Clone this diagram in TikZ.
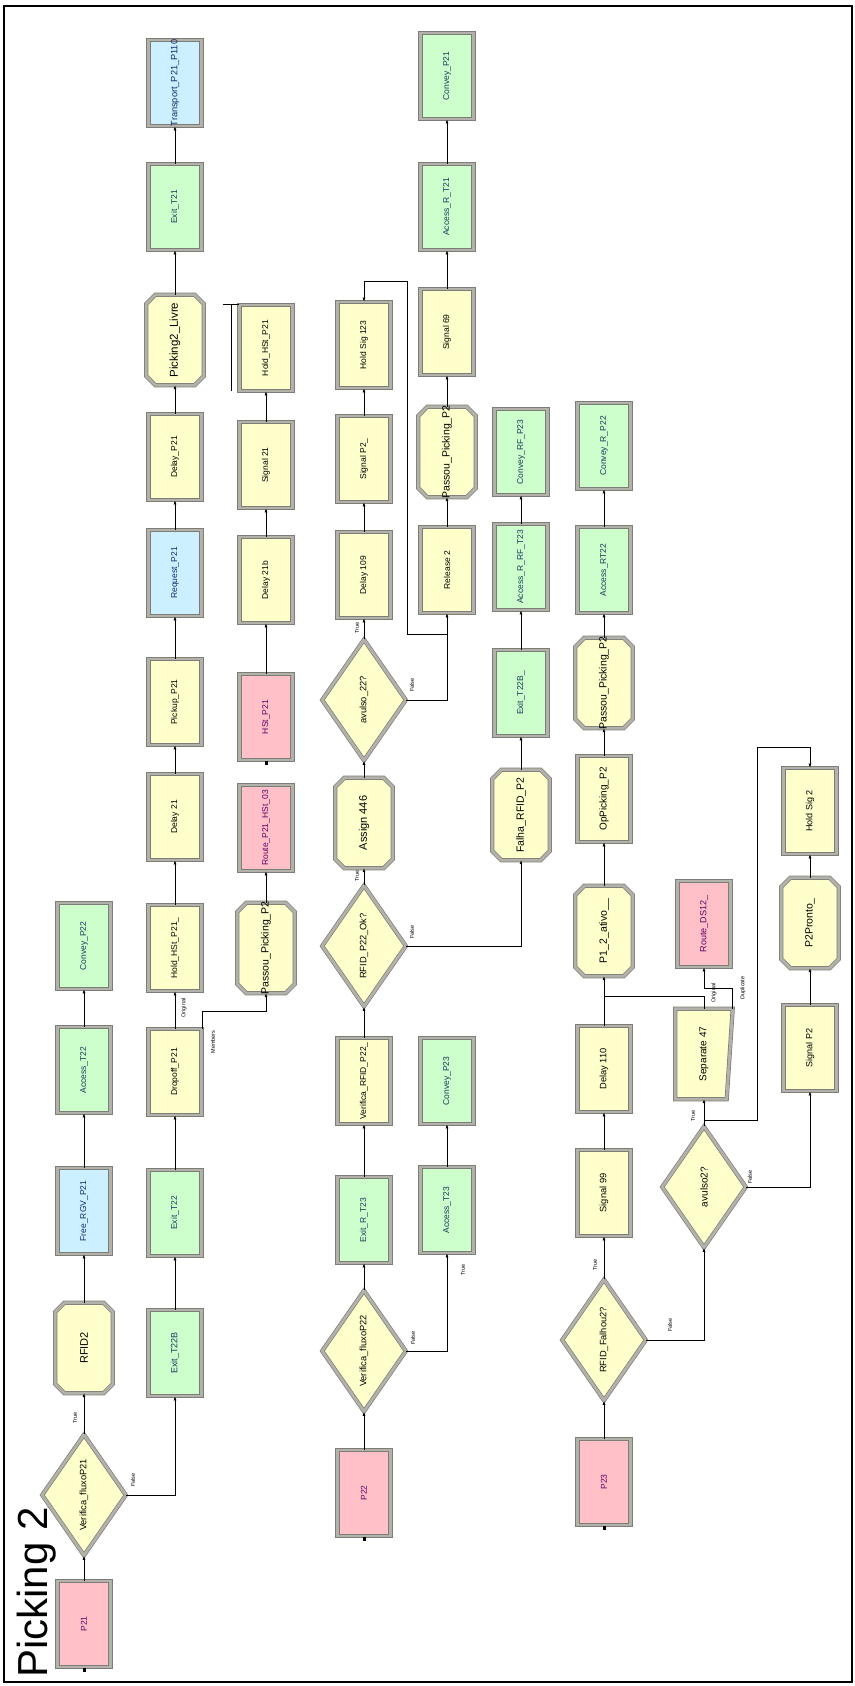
\documentclass[tikz,border=0pt]{standalone}
\usepackage{fontspec}
\setmainfont{Liberation Sans}
\usetikzlibrary{shapes.geometric,arrows.meta,calc}
\definecolor{yel}{RGB}{255,255,204}
\definecolor{grn}{RGB}{204,255,204}
\definecolor{cyn}{RGB}{204,240,255}
\definecolor{pnk}{RGB}{255,192,200}
\definecolor{frmdark}{RGB}{125,125,120}
\definecolor{frmlight}{RGB}{178,178,170}
\definecolor{grntxt}{RGB}{20,60,90}
\definecolor{cyntxt}{RGB}{20,40,110}
\definecolor{pnktxt}{RGB}{100,0,100}
\tikzset{
  modframe/.style={draw=frmdark, double=frmlight, double distance=2.8pt, line width=0.7pt},
  rmod/.style={rectangle, modframe, minimum width=53pt, minimum height=86pt, inner sep=0pt},
  omod/.style={rectangle, draw=none, minimum width=57pt, minimum height=90pt, inner sep=0pt},
  dmod/.style={diamond, modframe, fill=yel, minimum width=84pt, minimum height=121pt, inner sep=0pt},
  lbl/.style={rotate=90, inner sep=0pt},
  conn/.style={draw, line width=0.7pt, -{Latex[length=4pt,width=3pt]}},
  cline/.style={draw, line width=0.7pt},
  smalllbl/.style={rotate=90, inner sep=0pt, font=\fontsize{5.5}{6}\selectfont},
}
\newcommand\modR[6][8.5]{%
  \node[rmod, fill=#4] (#2) at (#3) {};
  \node[lbl, text=#5, font=\fontsize{#1}{#1}\selectfont] (#2-t) at (#2.center) {#6};}
\newcommand\modO[4][10.5]{%
  \node[omod] (#2) at (#3) {};
  \draw[modframe, fill=yel] ([xshift=9pt]#2.north west) -- ([xshift=-9pt]#2.north east) -- ([yshift=-9pt]#2.north east) -- ([yshift=9pt]#2.south east) -- ([xshift=-9pt]#2.south east) -- ([xshift=9pt]#2.south west) -- ([yshift=9pt]#2.south west) -- ([yshift=-9pt]#2.north west) -- cycle;
  \node[lbl, font=\fontsize{#1}{#1}\selectfont] (#2-t) at (#2.center) {#4};}
\newcommand\modD[4][9.3]{%
  \node[dmod] (#2) at (#3) {};
  \node[lbl, font=\fontsize{#1}{#1}\selectfont] (#2-t) at (#2.center) {#4};}
\begin{document}
\begin{tikzpicture}[x=1pt,y=-1pt]
\useasboundingbox (0,0) rectangle (854,1686);
\draw[line width=1.3pt] (4,6) rectangle (852,1682);
\node[rotate=90, anchor=base west, inner sep=0pt, font=\fontsize{42}{42}\selectfont] (title) at (47,1678) {Picking 2};

% column A
\modR{p21}{84,1624}{pnk}{pnktxt}{P21}
\modD{vfp21}{84,1495}{Verifica\_fluxoP21}
\modO[11]{rfid2}{84,1348}{RFID2}
\modR{freergv}{84,1211}{cyn}{cyntxt}{Free\_RGV\_P21}
\modR{accesst22}{84,1070}{grn}{grntxt}{Access\_T22}
\modR{conveyp22}{84,946}{grn}{grntxt}{Convey\_P22}

% column B
\modR[9]{exitt22b}{175,1353}{grn}{grntxt}{Exit\_T22B}
\modR{exitt22}{175,1213}{grn}{grntxt}{Exit\_T22}
\modR{dropoff}{175,1072}{yel}{black}{Dropoff\_P21}
\modR{holdhst}{175,948}{yel}{black}{Hold\_HSt\_P21\_}
\modR{delay21}{175,817}{yel}{black}{Delay 21}
\modR{pickup}{175,702}{yel}{black}{Pickup\_P21}
\modR{request}{175,573}{cyn}{cyntxt}{Request\_P21}
\modR{delayp21}{175,457}{yel}{black}{Delay\_P21}
\modO[11.5]{picklivre}{175,340}{Picking2\_Livre}
\modR{exitt21}{175,207}{grn}{grntxt}{Exit\_T21}
\modR[9.2]{transport}{175,83}{cyn}{cyntxt}{Transport\_P21\_P110}

% column C
\modR{holdhst2}{266,348}{yel}{black}{Hold\_HSt\_P21}
\modR{signal21}{266,465}{yel}{black}{Signal 21}
\modR{delay21b}{266,580}{yel}{black}{Delay 21b}
\modR{hst}{266,717}{pnk}{pnktxt}{HSt\_P21}
\modR{route}{266,828}{pnk}{pnktxt}{Route\_P21\_HSt\_03}
\modO{passou1}{266,948}{Passou\_Picking\_P2}

% column D
\modR{holdsig123}{364,345}{yel}{black}{Hold Sig 123}
\modR{signalp2u}{364,459}{yel}{black}{Signal P2\_}
\modR{delay109}{364,575}{yel}{black}{Delay 109}
\modD{avulso22}{364,700}{avulso\_22?}
\modO[11]{assign}{364,823}{Assign 446}
\modD{rfidok}{364,946}{RFID\_P22\_Ok?}
\modR{verrfid}{364,1081}{yel}{black}{Verifica\_RFID\_P22\_}
\modR{exitrt23}{364,1220}{grn}{grntxt}{Exit\_R\_T23}
\modD{vfp22}{364,1351}{Verifica\_fluxoP22}
\modR{p22}{364,1493}{pnk}{pnktxt}{P22}

% column E
\modR{conveyp21}{447,76}{grn}{grntxt}{Convey\_P21}
\modR{accessrt21}{447,207}{grn}{grntxt}{Access\_R\_T21}
\modR{signal69}{447,332}{yel}{black}{Signal 69}
\modO{passou2}{447,452}{Passou\_Picking\_P2}
\modR{release2}{447,570}{yel}{black}{Release 2}
\modR{conveyp23}{447,1081}{grn}{grntxt}{Convey\_P23}
\modR{accesst23}{447,1210}{grn}{grntxt}{Access\_T23}

% column F
\modR{conveyrf}{521,452}{grn}{grntxt}{Convey\_RF\_P23}
\modR{accessrrf}{521,567}{grn}{grntxt}{Access\_R\_RF\_T23}
\modR{exitt22bu}{521,693}{grn}{grntxt}{Exit\_T22B\_}
\modO{falha}{521,815}{Falha\_RFID\_P2}

% column G
\modR{conveyrp22}{604,446}{grn}{grntxt}{Convey\_R\_P22}
\modR{accessrt22}{604,570}{grn}{grntxt}{Access\_RT22}
\modO{passou3}{604,683}{Passou\_Picking\_P2}
\modR[10]{oppicking}{604,799}{yel}{black}{OpPicking\_P2}
\modO{p12ativo}{604,931}{P1\_2\_ativo\_\_}
\modR[9.3]{delay110}{604,1069}{yel}{black}{Delay 110}
\modR[9.3]{signal99}{604,1193}{yel}{black}{Signal 99}
\modD{rfidfalhou}{604,1340}{RFID\_Falhou2?}
\modR{p23}{604,1482}{pnk}{pnktxt}{P23}

% column H
\modR[9]{routeds12}{704,924}{pnk}{pnktxt}{Route\_DS12\_}
\node[omod] (separate) at (704,1054) {};
\draw[modframe, fill=yel] (separate.north west) -- (separate.north east) -- ([xshift=-6pt]separate.south east) -- (separate.south west) -- cycle;
\node[lbl, font=\fontsize{10}{10}\selectfont] (separate-t) at (separate.center) {Separate 47};
\modD[10]{avulso2}{704,1187}{avulso2?}

% column I
\modR[9]{holdsig2}{810,811}{yel}{black}{Hold Sig 2}
\modO[10.5]{p2pronto}{810,923}{P2Pronto\_}
\modR[9]{signalp2}{810,1048}{yel}{black}{Signal P2}

% exit dots of create modules
\fill ($(p21.south)+(-1.5,1)$) rectangle ++(3,4);
\fill ($(p22.south)+(-1.5,1)$) rectangle ++(3,4);
\fill ($(p23.south)+(-1.5,1)$) rectangle ++(3,4);
\fill ($(hst.south)+(-1.5,1)$) rectangle ++(3,4);

% connectors column A/B
\draw[conn] (p21.north) -- (vfp21.south);
\draw[conn] (vfp21.north) -- (rfid2.south);
\draw[conn] (rfid2.north) -- (freergv.south);
\draw[conn] (freergv.north) -- (accesst22.south);
\draw[conn] (accesst22.north) -- (conveyp22.south);
\draw[conn] (vfp21.east) -| (exitt22b.south);
\draw[conn] (exitt22b.north) -- (exitt22.south);
\draw[conn] (exitt22.north) -- (dropoff.south);
\draw[conn] (dropoff.north) -- (holdhst.south);
\draw[conn] (dropoff.north east) -- ++(0,-17) -| (passou1.south);
\draw[conn] (holdhst.north) -- (delay21.south);
\draw[conn] (delay21.north) -- (pickup.south);
\draw[conn] (pickup.north) -- (request.south);
\draw[conn] (request.north) -- (delayp21.south);
\draw[conn] (delayp21.north) -- (picklivre.south);
\draw[conn] (picklivre.north) -- (exitt21.south);
\draw[conn] (exitt21.north) -- (transport.south);
% column C
\draw[conn] (hst.north) -- (delay21b.south);
\draw[conn] (delay21b.north) -- (signal21.south);
\draw[conn] (signal21.north) -- (holdhst2.south);
\draw[conn] (passou1.north) -- (route.south);
\draw[cline] ($(holdhst2.north west)+(-16,0)$) -- (holdhst2.north west);
\draw[cline] ($(holdhst2.north west)+(-8,0)$) -- ($(holdhst2.south west)+(-8,0)$);
% column D/E
\draw[conn] (p22.north) -- (vfp22.south);
\draw[conn] (vfp22.north) -- (exitrt23.south);
\draw[conn] (vfp22.east) -| (accesst23.south);
\draw[conn] (accesst23.north) -- (conveyp23.south);
\draw[conn] (exitrt23.north) -- (verrfid.south);
\draw[conn] (verrfid.north) -- (rfidok.south);
\draw[conn] (rfidok.north) -- (assign.south);
\draw[conn] (rfidok.east) -| (falha.south);
\draw[conn] (assign.north) -- (avulso22.south);
\draw[conn] (avulso22.north) -- (delay109.south);
\draw[conn] (avulso22.east) -| (release2.south);
\coordinate (j1) at (447,634);
\draw[conn] (j1) -- ++(-40,0) |- ($(holdsig123.north)+(0,-20)$) -- (holdsig123.north);
\draw[conn] (delay109.north) -- (signalp2u.south);
\draw[conn] (signalp2u.north) -- (holdsig123.south);
\draw[conn] (release2.north) -- (passou2.south);
\draw[conn] (passou2.north) -- (signal69.south);
\draw[conn] (signal69.north) -- (accessrt21.south);
\draw[conn] (accessrt21.north) -- (conveyp21.south);
% column F
\draw[conn] (falha.north) -- (exitt22bu.south);
\draw[conn] (exitt22bu.north) -- (accessrrf.south);
\draw[conn] (accessrrf.north) -- (conveyrf.south);
% column G/H/I
\draw[conn] (p23.north) -- (rfidfalhou.south);
\draw[conn] (rfidfalhou.north) -- (signal99.south);
\draw[conn] (signal99.north) -- (delay110.south);
\draw[conn] (delay110.north) -- (p12ativo.south);
\draw[conn] (p12ativo.north) -- (oppicking.south);
\draw[conn] (oppicking.north) -- (passou3.south);
\draw[conn] (passou3.north) -- (accessrt22.south);
\draw[conn] (accessrt22.north) -- (conveyrp22.south);
\draw[conn] (rfidfalhou.east) -| (avulso2.south);
\draw[conn] (avulso2.north) -- (separate.south);
\coordinate (j2) at (704,1120);
\draw[conn] (j2) -- ++(53,0) |- ($(holdsig2.north)+(0,-20)$) -- (holdsig2.north);
\draw[conn] (avulso2.east) -| (signalp2.south);
\draw[conn] (signalp2.north) -- (p2pronto.south);
\draw[conn] (p2pronto.north) -- (holdsig2.south);
\coordinate (j3) at (604,996);
\draw[cline] (separate.north) |- (j3);
\draw[conn] (separate.north east) -- ++(0,-20) -| (routeds12.south);

% small connector labels
\node[smalllbl] (l1) at (75,1418) {True};
\node[smalllbl] (l2) at (133,1480) {False};
\node[smalllbl] (l3) at (184,1008) {Original};
\node[smalllbl] (l4) at (213,1042) {Members};
\node[smalllbl] (l5) at (357,628) {True};
\node[smalllbl] (l6) at (412,685) {False};
\node[smalllbl] (l7) at (357,876) {True};
\node[smalllbl] (l8) at (412,932) {False};
\node[smalllbl] (l9) at (413,1338) {False};
\node[smalllbl] (l10) at (463,1270) {True};
\node[smalllbl] (l11) at (595,1265) {True};
\node[smalllbl] (l12) at (670,1325) {False};
\node[smalllbl] (l13) at (693,1116) {True};
\node[smalllbl] (l14) at (750,1177) {False};
\node[smalllbl] (l15) at (714,993) {Original};
\node[smalllbl] (l16) at (743,988) {Duplicate};
\end{tikzpicture}
\end{document}
